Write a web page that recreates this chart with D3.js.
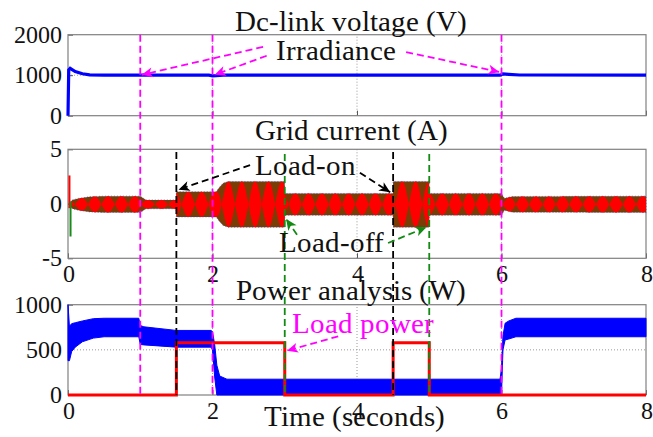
<!DOCTYPE html>
<html><head><meta charset="utf-8">
<style>
  @font-face { font-family: "ChartSerif"; src: local("Liberation Serif"), local("LiberationSerif"), local("Tinos"), local("Times New Roman"); }
</style>
<script src="https://cdn.jsdelivr.net/npm/d3@7"></script></head>
<body style="margin:0">
<script>
// values
const timeTicks = [0, 2, 4, 6, 8];
const voltTicks = [0, 1000, 2000];
const currTicks = [-5, 0, 5];
const powerTicks = [0, 500, 1000];

// Dc-link voltage (V)
const dcTime = [0, 0.01, 0.03, 0.1, 0.2, 0.3, 0.5, 1.0, 1.95, 2.0, 2.05, 2.15, 5.98, 6.02, 6.1, 6.25, 8];
const dcVolt = [0, 1130, 1170, 1090, 1035, 1010, 1000, 1000, 1000, 985, 990, 1000, 1000, 1030, 1020, 1005, 1000];

// Grid current envelope (A, peak)
const currTime = [0.03, 0.06, 0.15, 0.3, 0.5, 1.0, 1.08, 1.5, 1.5, 2.05, 2.1, 2.15, 2.22, 3.0, 3.0, 4.5, 4.5, 5.0, 5.0, 6.0, 6.04, 6.15, 8];
const currAmp = [0.2, 0.4, 0.55, 0.7, 0.75, 0.75, 0.4, 0.4, 1.15, 1.15, 1.6, 1.95, 2.1, 2.1, 1.0, 1.0, 2.1, 2.1, 1.0, 1.0, 0.55, 0.72, 0.75];
const lensPeriod = 0.185;   // visible beat of the sampled 50 Hz carrier

// start-up transient of the current
const startTime = [0.02, 0.035];
const startLow = [-0.4, -3.0];
const startHigh = [2.6, 0.2];

// PV power band (W)
const pvTime = [0, 0.02, 0.05, 0.1, 0.2, 0.35, 0.5, 0.98, 1.0, 1.05, 1.5, 1.98, 2.0, 2.03, 2.06, 2.1, 2.2, 5.98, 6.0, 6.02, 6.05, 6.1, 6.2, 8];
const pvHigh = [1000, 760, 790, 800, 820, 845, 850, 850, 770, 755, 715, 715, 700, 560, 330, 210, 175, 175, 300, 650, 795, 820, 850, 850];
const pvLow = [380, 380, 480, 530, 590, 630, 645, 645, 560, 555, 530, 530, 500, 200, 0, 0, 0, 0, 0, 500, 610, 620, 645, 645];

// load power (W)
const loadTime = [0, 1.5, 1.5, 3.0, 3.0, 4.5, 4.5, 5.0, 5.0, 8];
const loadPower = [0, 0, 580, 580, 0, 0, 580, 580, 0, 0];

// events (s)
const irradianceSteps = [1, 2, 6];
const loadOnTimes = [1.5, 4.5];
const loadOffTimes = [3, 5];

const serif = "ChartSerif, 'Liberation Serif', Tinos, 'DejaVu Serif', serif";
const width = 653, height = 437;
const svg = d3.select("body").append("svg")
  .attr("width", width).attr("height", height);

const x = d3.scaleLinear().domain([0, 8]).range([68, 646]);

const panels = [
  { y: d3.scaleLinear().domain([0, 2000]).range([115.7, 34.7]), ticks: voltTicks, xLabels: false, title: "Dc-link voltage (V)", titleY: 31 },
  { y: d3.scaleLinear().domain([-5, 5]).range([258.3, 149.3]), ticks: currTicks, xLabels: true, title: "Grid current (A)", titleY: 140 },
  { y: d3.scaleLinear().domain([0, 1000]).range([395, 304.7]), ticks: powerTicks, xLabels: true, title: "Power analysis (W)", titleY: 300 }
];

const defs = svg.append("defs");
[["magenta", "#ff00ff"], ["black", "#000"], ["green", "#138a13"]].forEach(([name, col]) => {
  defs.append("marker")
    .attr("id", "head-" + name)
    .attr("viewBox", "-12 -6 14 12")
    .attr("markerUnits", "userSpaceOnUse")
    .attr("markerWidth", 14).attr("markerHeight", 12)
    .attr("refX", 0).attr("refY", 0)
    .attr("orient", "auto")
    .append("path")
    .attr("d", "M0,0 L-11,-5 L-8,0 L-11,5 Z")
    .attr("fill", col);
});

// Axes, grid, frames
panels.forEach(p => {
  const [y0, y1] = p.y.range();
  const g = svg.append("g");

  g.selectAll(".gx").data(timeTicks.slice(1, -1)).enter().append("line")
    .attr("x1", d => x(d)).attr("x2", d => x(d))
    .attr("y1", y0).attr("y2", y1)
    .attr("stroke", "#999").attr("stroke-dasharray", "1,2");
  g.append("line")
    .attr("x1", x(0)).attr("x2", x(8))
    .attr("y1", p.y(p.ticks[1])).attr("y2", p.y(p.ticks[1]))
    .attr("stroke", "#999").attr("stroke-dasharray", "1,2");

  const yAxis = g.append("g").attr("transform", `translate(${x(0)},0)`)
    .call(d3.axisLeft(p.y).tickValues(p.ticks).tickSizeInner(-5).tickSizeOuter(0).tickPadding(6)
      .tickFormat(d => String(d)));
  const xAxis = g.append("g").attr("transform", `translate(0,${y0})`)
    .call(d3.axisBottom(x).tickValues(timeTicks).tickSizeInner(-5).tickSizeOuter(0).tickPadding(7)
      .tickFormat(d => String(d)));
  if (!p.xLabels) xAxis.selectAll("text").remove();
  [yAxis, xAxis].forEach(a => {
    a.attr("font-family", serif).attr("font-size", 24);
    a.select(".domain").remove();
    a.selectAll("line").attr("stroke", "#555");
    a.selectAll("text").style("font-family", serif).attr("fill", "#111");
  });

  g.append("rect")
    .attr("x", x(0)).attr("y", y1)
    .attr("width", x(8) - x(0)).attr("height", y0 - y1)
    .attr("fill", "none").attr("stroke", "#808080").attr("stroke-width", 1.2);
});

// Panel 1: dc-link voltage
const p1 = panels[0], p2 = panels[1], p3 = panels[2];
svg.append("path")
  .datum(dcTime.map((t, i) => [t, dcVolt[i]]))
  .attr("d", d3.line().x(d => x(d[0])).y(d => p1.y(d[1])))
  .attr("fill", "none").attr("stroke", "#0000ff").attr("stroke-width", 3.2);

// Panel 2: grid current band
const amp = t => {
  if (t < currTime[0]) return 0;
  const i = d3.bisectRight(currTime, t);
  if (i >= currTime.length) return currAmp[currAmp.length - 1];
  const t0 = currTime[i - 1], t1 = currTime[i];
  return t1 === t0 ? currAmp[i] : currAmp[i - 1] + (currAmp[i] - currAmp[i - 1]) * (t - t0) / (t1 - t0);
};
const samples = d3.range(currTime[0], 8.0001, 0.002);
const centre = -0.05;

svg.append("path")
  .datum(samples)
  .attr("d", d3.area().x(t => x(t)).y0(t => p2.y(centre - amp(t))).y1(t => p2.y(centre + amp(t))))
  .attr("fill", "#7a3d06")
  .attr("stroke", "#4a4ad8").attr("stroke-width", 0.8).attr("stroke-dasharray", "1,2");

svg.append("path")
  .datum(samples)
  .attr("d", d3.area()
    .x(t => x(t))
    .y0(t => p2.y(centre - amp(t) * Math.abs(Math.cos(Math.PI * t / lensPeriod))))
    .y1(t => p2.y(centre + amp(t) * Math.abs(Math.cos(Math.PI * t / lensPeriod)))))
  .attr("fill", "#ff0000");

svg.selectAll(".start").data(startTime).enter().append("line")
  .attr("x1", d => x(d)).attr("x2", d => x(d))
  .attr("y1", (d, i) => p2.y(startLow[i])).attr("y2", (d, i) => p2.y(startHigh[i]))
  .attr("stroke", (d, i) => i === 0 ? "#ff0000" : "#1a8a1a").attr("stroke-width", 2);

// Panel 3: power
svg.append("path")
  .datum(pvTime.map((t, i) => [t, pvLow[i], pvHigh[i]]))
  .attr("d", d3.area().x(d => x(d[0])).y0(d => p3.y(d[1])).y1(d => p3.y(d[2])))
  .attr("fill", "#0000ff").attr("stroke", "#0000ff").attr("stroke-width", 1);

svg.append("path")
  .datum(loadTime.map((t, i) => [t, loadPower[i]]))
  .attr("d", d3.line().x(d => x(d[0])).y(d => p3.y(d[1])))
  .attr("fill", "none").attr("stroke", "#ff0000").attr("stroke-width", 3);

// event markers
const vline = (times, col, yTop) => svg.append("g").selectAll("line").data(times).enter().append("line")
  .attr("x1", d => x(d)).attr("x2", d => x(d))
  .attr("y1", yTop).attr("y2", p3.y(0))
  .attr("stroke", col).attr("stroke-width", 1.8).attr("stroke-dasharray", "7,4");
vline(irradianceSteps, "#ff00ff", p1.y(2000));
vline(loadOnTimes, "#000", 152);
vline(loadOffTimes, "#138a13", 154);

// annotation arrows, in data units of each panel
const arrow = (p, from, to, col, name) => svg.append("line")
  .attr("x1", x(from[0])).attr("y1", p.y(from[1]))
  .attr("x2", x(to[0])).attr("y2", p.y(to[1]))
  .attr("stroke", col).attr("stroke-width", 1.8).attr("stroke-dasharray", "7,4")
  .attr("marker-end", `url(#head-${name})`);

arrow(p1, [2.70, 1700], [1.02, 1010], "#ff00ff", "magenta");
arrow(p1, [2.75, 1480], [2.03, 1010], "#ff00ff", "magenta");
arrow(p1, [4.68, 1570], [5.97, 1080], "#ff00ff", "magenta");
arrow(p2, [2.52, 3.55], [1.53, 1.3], "#000", "black");
arrow(p2, [4.04, 2.85], [4.46, 1.05], "#000", "black");
arrow(p2, [3.17, -2.85], [3.02, -1.4], "#138a13", "green");
arrow(p2, [4.43, -3.6], [4.96, -2.15], "#138a13", "green");
arrow(p3, [3.74, 650], [3.03, 490], "#ff00ff", "magenta");

// labels
const label = (txt, px, py, col, anchor) => svg.append("text")
  .attr("x", px).attr("y", py)
  .attr("text-anchor", anchor || "start")
  .attr("font-family", serif).attr("font-size", 29)
  .style("font-family", serif)
  .attr("fill", col)
  .text(txt);

panels.forEach(p => label(p.title, 351, p.titleY, "#111", "middle"));
label("Irradiance", x(2.88), p1.y(1380), "#111");
label("Load-on", x(2.59), p2.y(2.6), "#111");
label("Load-off", x(2.92), p2.y(-4.4), "#111");
label("Load power", x(3.1), p3.y(690), "#ff00ff");
label("Time (seconds)", 354, 426, "#111", "middle");
</script>
</body>
</html>
